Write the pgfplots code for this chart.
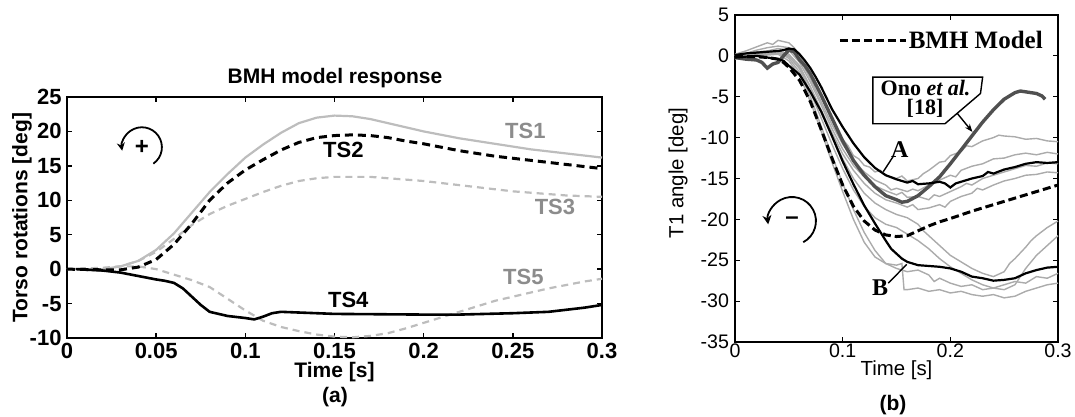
\documentclass[border=0pt]{standalone}
\usepackage{fontspec}
\setmainfont{Liberation Sans}
\newfontfamily\seriffont{Liberation Serif}
\usepackage{pgfplots}
\pgfplotsset{compat=1.18}
\usetikzlibrary{arrows.meta}
\definecolor{lgray}{HTML}{BDBDBD}
\definecolor{tsgray}{HTML}{8C8C8C}
\definecolor{tgray}{HTML}{ABABAB}
\definecolor{ono}{HTML}{505050}
\begin{document}
\begin{tikzpicture}
\useasboundingbox (0pt,0pt) rectangle (537.5pt,208.5pt);
% ---------------- panel (a)
\begin{axis}[
  at={(33.5pt,39.5pt)}, anchor=south west,
  width=267.5pt, height=120.5pt, scale only axis,
  xmin=0, xmax=0.3, ymin=-10, ymax=25,
  xtick={0,0.05,0.1,0.15,0.2,0.25,0.3},
  xticklabels={0,0.05,0.1,0.15,0.2,0.25,0.3},
  ytick={-10,-5,0,5,10,15,20,25},
  scaled ticks=false,
  /pgf/number format/assume math mode=true,
  tick align=inside, major tick length=2.5pt,
  tick style={black,line width=0.7pt},
  axis line style={line width=1pt},
  ticklabel style={font=\bfseries\fontsize{11}{13}\selectfont},
  xticklabel style={yshift=0.8pt},
  yticklabel style={xshift=0.8pt},
  xlabel={Time [s]}, ylabel={Torso rotations [deg]},
  label style={font=\bfseries\fontsize{10.5}{12}\selectfont},
  xlabel style={at={(axis description cs:0.5,-0.141)},anchor=center},
  ylabel style={at={(axis description cs:-0.084,0.5)},anchor=center},
  clip=false,
]
\addplot[lgray, line width=1.1pt] coordinates {(0,0)(0.02,0)(0.03,0.4)(0.04,1.2)(0.05,2.8)(0.06,5.2)(0.07,8.2)(0.08,11.2)(0.09,13.8)(0.1,16.2)(0.11,18.1)(0.12,19.8)(0.13,21.2)(0.14,22.0)(0.15,22.3)(0.16,22.2)(0.17,21.8)(0.18,21.2)(0.19,20.6)(0.2,20.0)(0.21,19.5)(0.22,19.0)(0.23,18.6)(0.24,18.2)(0.25,17.8)(0.26,17.4)(0.27,17.1)(0.28,16.8)(0.29,16.5)(0.3,16.2)};
\addplot[lgray, line width=1.1pt, dash pattern=on 3.5pt off 2.5pt] coordinates {(0,0)(0.02,0.1)(0.03,0.4)(0.04,1.2)(0.05,2.5)(0.06,4.4)(0.07,6.4)(0.08,8.0)(0.09,9.2)(0.1,10.2)(0.11,11.2)(0.12,12.1)(0.13,12.8)(0.14,13.2)(0.15,13.4)(0.16,13.4)(0.17,13.4)(0.18,13.2)(0.19,13.0)(0.2,12.8)(0.21,12.5)(0.22,12.2)(0.23,11.9)(0.24,11.6)(0.25,11.3)(0.26,11.1)(0.27,10.9)(0.28,10.7)(0.29,10.6)(0.3,10.5)};
\addplot[lgray, line width=1.1pt, dash pattern=on 3.5pt off 2.5pt] coordinates {(0,0)(0.02,0.2)(0.03,0.4)(0.04,0.4)(0.05,0)(0.06,-0.8)(0.07,-1.6)(0.08,-2.6)(0.09,-4.3)(0.1,-6.0)(0.11,-7.5)(0.12,-8.4)(0.13,-9.0)(0.14,-9.5)(0.15,-9.8)(0.16,-9.9)(0.17,-9.7)(0.18,-9.3)(0.19,-8.6)(0.2,-7.8)(0.21,-7.0)(0.22,-6.2)(0.23,-5.4)(0.24,-4.6)(0.25,-4.0)(0.26,-3.4)(0.27,-2.8)(0.28,-2.3)(0.29,-1.8)(0.3,-1.4)};
\addplot[black, line width=1.5pt, dash pattern=on 4pt off 2.5pt] coordinates {(0,0)(0.02,-0.1)(0.03,-0.1)(0.04,0.3)(0.05,1.4)(0.06,3.6)(0.07,6.6)(0.08,10.0)(0.09,12.5)(0.1,14.4)(0.11,15.9)(0.12,17.3)(0.13,18.4)(0.14,19.1)(0.15,19.4)(0.16,19.5)(0.17,19.4)(0.18,19.1)(0.19,18.6)(0.2,18.2)(0.21,17.7)(0.22,17.2)(0.23,16.8)(0.24,16.4)(0.25,16.1)(0.26,15.8)(0.27,15.5)(0.28,15.2)(0.29,14.9)(0.3,14.6)};
\addplot[black, line width=1.3pt] coordinates {(0.005,0)(0.02,-0.2)(0.03,-0.5)(0.04,-1.0)(0.05,-1.5)(0.055,-1.7)(0.06,-2.0)(0.065,-2.8)(0.07,-4.0)(0.075,-5.2)(0.08,-6.2)(0.09,-6.8)(0.1,-7.1)(0.105,-7.3)(0.11,-6.9)(0.115,-6.4)(0.12,-6.2)(0.13,-6.3)(0.15,-6.5)(0.2,-6.6)(0.22,-6.6)(0.25,-6.4)(0.27,-6.2)(0.28,-5.9)(0.29,-5.6)(0.3,-5.2)};
\node[tsgray, font=\bfseries\fontsize{11}{13}\selectfont] at (axis cs:0.257,20.1) {TS1};
\node[black, font=\bfseries\fontsize{11}{13}\selectfont] at (axis cs:0.155,17.3) {TS2};
\node[tsgray, font=\bfseries\fontsize{11}{13}\selectfont] at (axis cs:0.2736,9.0) {TS3};
\node[black, font=\bfseries\fontsize{11}{13}\selectfont] at (axis cs:0.1577,-4.5) {TS4};
\node[tsgray, font=\bfseries\fontsize{11}{13}\selectfont] at (axis cs:0.2559,-1.1) {TS5};
\coordinate (ca) at (axis cs:0.042,17.7);
\draw[black, line width=0.9pt, -{Stealth[length=4pt,width=4pt]}] ([shift={(-55:10pt)}]ca) arc[start angle=-55, end angle=190, radius=10pt];
\node[font=\bfseries\fontsize{12}{13}\selectfont] at (ca) {+};
\end{axis}
% ---------------- panel (b)
\begin{axis}[
  at={(367.5pt,37.5pt)}, anchor=south west,
  width=161.5pt, height=163.5pt, scale only axis,
  xmin=0, xmax=0.3, ymin=-35, ymax=5,
  xtick={0,0.1,0.2,0.3},
  xticklabels={0,0.1,0.2,0.3},
  ytick={-35,-30,-25,-20,-15,-10,-5,0,5},
  scaled ticks=false,
  /pgf/number format/assume math mode=true,
  tick align=inside, major tick length=2.5pt,
  tick style={black,line width=0.6pt},
  axis line style={line width=0.9pt},
  ticklabel style={font=\fontsize{9.8}{12}\selectfont},
  xticklabel style={yshift=2.8pt},
  yticklabel style={xshift=0.5pt},
  xlabel={Time [s]}, ylabel={T1 angle [deg]},
  label style={font=\fontsize{10.2}{12}\selectfont},
  xlabel style={at={(axis description cs:0.5,-0.0856)},anchor=center},
  ylabel style={at={(axis description cs:-0.1765,0.517)},anchor=center},
  clip=false,
]
\addplot[tgray, line width=0.7pt] coordinates {(0,0.2)(0.01,0.6)(0.02,1.1)(0.03,1.6)(0.035,1.4)(0.04,1.9)(0.05,1.6)(0.055,1.0)(0.06,0.0)(0.07,-2.2)(0.08,-5.0)(0.09,-7.8)(0.1,-10.2)(0.105,-11.0)(0.11,-12.2)(0.115,-12.6)(0.12,-13.4)(0.125,-13.6)(0.13,-14.2)(0.135,-14.0)(0.14,-14.6)(0.15,-15.0)(0.155,-14.7)(0.16,-15.3)(0.17,-15.0)(0.175,-14.4)(0.18,-14.0)(0.19,-13.0)(0.195,-12.9)(0.2,-12.2)(0.21,-11.7)(0.215,-11.0)(0.22,-11.1)(0.23,-10.4)(0.24,-10.0)(0.245,-9.7)(0.25,-9.8)(0.26,-9.9)(0.27,-10.2)(0.28,-10.1)(0.29,-10.4)(0.3,-10.5)};
\addplot[tgray, line width=0.7pt] coordinates {(0,0)(0.01,0.3)(0.02,0.7)(0.03,1.0)(0.04,1.2)(0.05,1.0)(0.06,-0.4)(0.07,-2.8)(0.08,-5.6)(0.09,-8.4)(0.1,-10.8)(0.11,-12.8)(0.115,-13.5)(0.12,-14.2)(0.13,-15.2)(0.14,-15.8)(0.145,-16.4)(0.15,-16.2)(0.16,-16.6)(0.165,-16.3)(0.17,-16.5)(0.18,-15.8)(0.19,-15.2)(0.2,-14.6)(0.205,-14.8)(0.21,-14.0)(0.22,-13.5)(0.23,-13.2)(0.24,-12.6)(0.25,-12.5)(0.26,-12.1)(0.27,-11.9)(0.28,-12.1)(0.29,-11.8)(0.3,-12.0)};
\addplot[tgray, line width=0.7pt] coordinates {(0,0.1)(0.01,0.2)(0.02,0.5)(0.03,0.6)(0.04,0.9)(0.05,0.7)(0.06,-0.8)(0.07,-3.2)(0.08,-6.0)(0.09,-8.9)(0.1,-11.4)(0.11,-13.4)(0.12,-14.8)(0.13,-15.9)(0.14,-16.5)(0.15,-17.0)(0.155,-16.7)(0.16,-17.3)(0.17,-17.2)(0.18,-17.6)(0.185,-17.0)(0.19,-17.2)(0.2,-16.6)(0.21,-16.0)(0.215,-15.6)(0.22,-15.8)(0.23,-15.0)(0.24,-14.6)(0.25,-14.2)(0.26,-13.8)(0.27,-13.4)(0.28,-13.5)(0.29,-13.1)(0.3,-13.2)};
\addplot[tgray, line width=0.7pt] coordinates {(0,-0.3)(0.01,-0.2)(0.02,0.1)(0.03,0.2)(0.04,0.3)(0.05,-0.1)(0.06,-1.4)(0.07,-3.8)(0.08,-6.6)(0.09,-9.4)(0.1,-12.0)(0.11,-14.0)(0.12,-15.6)(0.13,-16.8)(0.14,-17.6)(0.15,-18.0)(0.16,-18.5)(0.165,-18.2)(0.17,-18.8)(0.18,-18.6)(0.19,-18.2)(0.195,-18.5)(0.2,-17.8)(0.21,-17.2)(0.22,-16.8)(0.225,-16.2)(0.23,-16.4)(0.24,-15.8)(0.25,-15.3)(0.26,-15.0)(0.27,-14.6)(0.28,-14.5)(0.29,-14.2)(0.3,-14.3)};
\addplot[tgray, line width=0.7pt] coordinates {(0,0)(0.01,0.2)(0.02,0.4)(0.03,0.5)(0.04,0.6)(0.05,0.2)(0.06,-1.2)(0.07,-3.8)(0.08,-6.8)(0.09,-9.8)(0.1,-12.6)(0.11,-15.0)(0.12,-16.8)(0.13,-18.0)(0.14,-18.8)(0.15,-19.4)(0.16,-19.8)(0.17,-20.6)(0.175,-21.4)(0.18,-22.0)(0.19,-23.2)(0.2,-24.4)(0.21,-25.2)(0.22,-26.0)(0.23,-26.6)(0.24,-27.0)(0.25,-26.4)(0.255,-25.4)(0.26,-24.8)(0.27,-23.4)(0.275,-22.6)(0.28,-22.0)(0.29,-21.0)(0.3,-20.2)};
\addplot[tgray, line width=0.7pt] coordinates {(0,-0.2)(0.01,0.0)(0.02,0.3)(0.03,0.3)(0.04,0.5)(0.05,0.0)(0.06,-1.6)(0.07,-4.4)(0.08,-7.6)(0.09,-10.8)(0.1,-13.8)(0.11,-16.4)(0.12,-18.4)(0.13,-19.8)(0.14,-20.6)(0.15,-21.0)(0.16,-21.8)(0.17,-22.6)(0.18,-23.6)(0.19,-24.8)(0.2,-25.8)(0.21,-26.6)(0.22,-27.4)(0.23,-28.0)(0.24,-28.4)(0.25,-28.6)(0.26,-28.0)(0.265,-27.0)(0.27,-26.0)(0.28,-24.4)(0.29,-23.2)(0.3,-22.0)};
\addplot[tgray, line width=0.7pt] coordinates {(0,0)(0.01,0.1)(0.02,0.2)(0.03,0.4)(0.04,0.4)(0.05,-0.3)(0.06,-2.0)(0.07,-5.0)(0.08,-8.6)(0.09,-12.2)(0.1,-15.6)(0.11,-18.8)(0.12,-21.6)(0.13,-23.8)(0.14,-25.4)(0.15,-26.0)(0.16,-26.4)(0.17,-26.2)(0.18,-26.8)(0.185,-27.6)(0.19,-27.2)(0.2,-27.8)(0.21,-28.2)(0.22,-28.0)(0.23,-28.6)(0.24,-28.4)(0.25,-28.0)(0.26,-27.6)(0.27,-27.8)(0.28,-27.0)(0.29,-27.2)(0.3,-26.6)};
\addplot[tgray, line width=0.7pt] coordinates {(0,-0.4)(0.01,-0.2)(0.02,0.0)(0.03,0.1)(0.04,0.2)(0.05,-0.6)(0.06,-2.4)(0.07,-5.6)(0.08,-9.2)(0.09,-13.0)(0.1,-16.6)(0.11,-20.0)(0.12,-22.8)(0.13,-24.6)(0.14,-25.4)(0.15,-25.6)(0.155,-25.4)(0.157,-28.6)(0.16,-28.6)(0.17,-28.4)(0.18,-28.8)(0.19,-28.6)(0.2,-29.0)(0.21,-28.8)(0.22,-29.2)(0.23,-29.4)(0.24,-29.2)(0.25,-29.6)(0.26,-29.4)(0.27,-28.8)(0.28,-28.4)(0.29,-28.0)(0.3,-27.8)};
\addplot[ono, line width=1.7pt] coordinates {(0,-0.2)(0.01,-0.4)(0.02,-0.5)(0.025,-0.8)(0.03,-1.5)(0.035,-1.0)(0.04,-0.8)(0.045,0.0)(0.05,0.7)(0.055,0.5)(0.06,-0.5)(0.065,-1.2)(0.07,-2.2)(0.08,-4.8)(0.09,-7.6)(0.1,-10.4)(0.11,-12.8)(0.12,-14.6)(0.13,-16.0)(0.14,-17.1)(0.15,-17.6)(0.155,-17.9)(0.16,-17.8)(0.17,-17.1)(0.18,-16.0)(0.19,-14.8)(0.2,-13.2)(0.21,-11.5)(0.22,-9.8)(0.23,-8.1)(0.24,-6.6)(0.25,-5.3)(0.26,-4.5)(0.265,-4.3)(0.27,-4.4)(0.28,-4.6)(0.285,-4.9)(0.288,-5.3)};
\addplot[black, line width=1.1pt] coordinates {(0,0.1)(0.01,0.3)(0.02,0.4)(0.03,0.5)(0.04,0.6)(0.045,0.7)(0.05,0.9)(0.055,0.8)(0.06,0.2)(0.065,-0.6)(0.07,-1.5)(0.075,-2.6)(0.08,-3.8)(0.09,-6.5)(0.1,-8.7)(0.11,-10.7)(0.12,-12.4)(0.13,-13.7)(0.14,-14.6)(0.15,-15.1)(0.16,-15.5)(0.165,-15.3)(0.17,-15.7)(0.18,-15.6)(0.19,-15.4)(0.195,-15.6)(0.2,-16.1)(0.205,-15.6)(0.21,-15.4)(0.22,-15.0)(0.23,-14.7)(0.235,-14.2)(0.24,-14.4)(0.25,-13.9)(0.26,-13.6)(0.27,-13.2)(0.28,-13.0)(0.29,-13.1)(0.3,-13.0)};
\addplot[black, line width=1.1pt] coordinates {(0,-0.2)(0.01,-0.1)(0.02,0.0)(0.03,-0.2)(0.04,-0.4)(0.045,-0.6)(0.05,-1.2)(0.06,-2.3)(0.07,-4.4)(0.08,-6.8)(0.09,-9.8)(0.1,-12.9)(0.11,-15.7)(0.12,-18.3)(0.13,-20.5)(0.14,-22.6)(0.145,-23.6)(0.15,-24.2)(0.155,-24.8)(0.16,-25.2)(0.17,-25.6)(0.18,-25.7)(0.19,-25.8)(0.2,-26.0)(0.21,-26.4)(0.22,-27.0)(0.23,-27.2)(0.24,-27.5)(0.25,-27.4)(0.26,-27.2)(0.27,-26.6)(0.28,-26.2)(0.29,-25.9)(0.3,-25.8)};
\addplot[black, line width=1.5pt, dash pattern=on 4pt off 2pt] coordinates {(0,-0.1)(0.02,-0.1)(0.03,-0.2)(0.04,-0.4)(0.045,-0.8)(0.05,-1.4)(0.06,-3.0)(0.07,-5.6)(0.08,-9.0)(0.09,-12.5)(0.1,-15.8)(0.11,-18.4)(0.12,-20.2)(0.13,-21.3)(0.14,-21.9)(0.15,-22.1)(0.16,-22.0)(0.17,-21.4)(0.18,-20.8)(0.19,-20.3)(0.2,-19.9)(0.22,-19.0)(0.24,-18.2)(0.26,-17.4)(0.28,-16.6)(0.3,-15.8)};
% legend
\addplot[black, line width=1.5pt, dash pattern=on 4pt off 2pt] coordinates {(0.0975,1.94)(0.159,1.94)};
\node[anchor=west, inner sep=0pt, font=\seriffont\bfseries\fontsize{12.5}{14}\selectfont] at (axis cs:0.161,1.94) {BMH Model};
% Ono callout
\draw[black, line width=0.7pt, fill=white] (axis cs:0.128,-2.6) -- (axis cs:0.2300,-2.6) -- (axis cs:0.2280,-4.6) -- (axis cs:0.195,-8.3) -- (axis cs:0.128,-8.3) -- cycle;
\node[font=\seriffont\bfseries\fontsize{11}{13}\selectfont, inner sep=0pt] at (axis cs:0.177,-3.95) {Ono \textit{et al.}};
\node[font=\seriffont\bfseries\fontsize{11}{13}\selectfont, inner sep=0pt] at (axis cs:0.1765,-6.45) {[18]};
\draw[black, line width=0.7pt, -{Stealth[length=4pt,width=3pt]}] (axis cs:0.2062,-7.0) -- (axis cs:0.2205,-9.3);
% A and B
\node[font=\seriffont\bfseries\fontsize{12}{14}\selectfont, inner sep=0pt] at (axis cs:0.153,-11.5) {A};
\draw[black, line width=0.7pt] (axis cs:0.1468,-12.33) -- (axis cs:0.1377,-14.17);
\node[font=\seriffont\bfseries\fontsize{12}{14}\selectfont, inner sep=0pt] at (axis cs:0.1347,-28.4) {B};
\draw[black, line width=0.7pt] (axis cs:0.1424,-27.8) -- (axis cs:0.1595,-25.5);
% rotation arrow
\coordinate (cb) at (axis cs:0.0529,-20.2);
\draw[black, line width=0.9pt, -{Stealth[length=4.5pt,width=4.5pt]}] ([shift={(-62:12pt)}]cb) arc[start angle=-62, end angle=188, radius=12pt];
\node[font=\bfseries\fontsize{12}{14}\selectfont] at (cb) {--};
\end{axis}
% captions and title
\node[font=\bfseries\fontsize{10.5}{12}\selectfont] at (167.5pt,169.5pt) {BMH model response};
\node[font=\bfseries\fontsize{10.5}{12}\selectfont] at (167.5pt,10pt) {(a)};
\node[font=\bfseries\fontsize{10.5}{12}\selectfont] at (446.5pt,6pt) {(b)};
\end{tikzpicture}
\end{document}
